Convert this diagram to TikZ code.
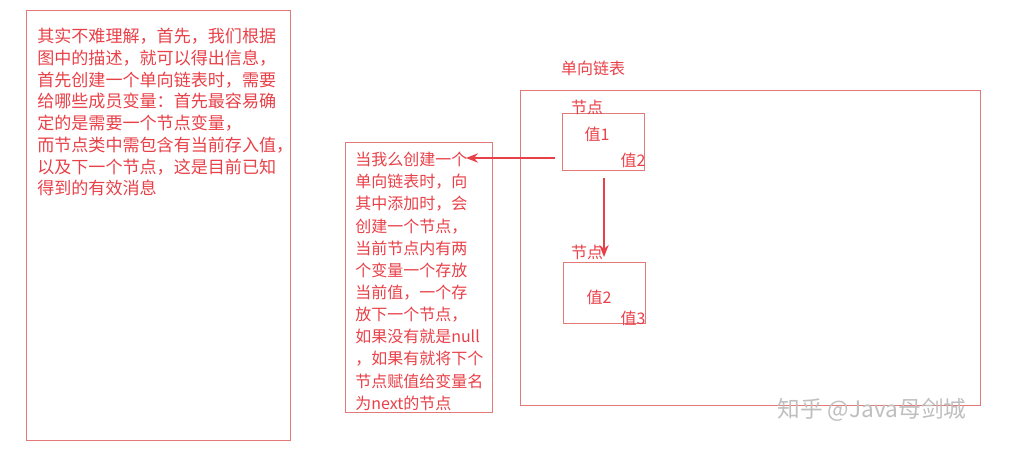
\documentclass[tikz,border=0pt]{standalone}
\usepackage{fontspec}
\setmainfont{Noto Sans CJK SC}
\usetikzlibrary{positioning, arrows.meta}
\definecolor{memo}{RGB}{232,64,72}
\definecolor{frame}{RGB}{226,120,120}
\tikzstyle{panel} = [rectangle, draw=frame, line width=0.6pt]
\tikzstyle{memotext} = [text=memo, anchor=north west, align=left, font=\fontsize{12.8}{16.3}\selectfont, inner sep=0pt]
\tikzstyle{tag} = [text=memo, font=\fontsize{12}{14}\selectfont]
\tikzstyle{link} = [draw=memo, line width=1.4pt, -{Stealth[length=9pt,width=7pt]}]

\begin{document}
\begin{tikzpicture}[x=0.75pt, y=-0.75pt]
        \useasboundingbox (0,0) rectangle (1026,456);

        \draw[panel] (26,10) rectangle (290,440);
        \node[memotext] (intro) at (37,28) {其实不难理解，首先，我们根据\\图中的描述，就可以得出信息，\\首先创建一个单向链表时，需要\\给哪些成员变量：首先最容易确\\定的是需要一个节点变量，\\而节点类中需包含有当前存入值，\\以及下一个节点，这是目前已知\\得到的有效消息};

        \draw[panel] (345,142) rectangle (492,412);
        \node[memotext, font=\fontsize{12}{16.6}\selectfont] (explain) at (355,152) {当我么创建一个\\单向链表时，向\\其中添加时，会\\创建一个节点，\\当前节点内有两\\个变量一个存放\\当前值，一个存\\放下一个节点，\\如果没有就是null\\，如果有就将下个\\节点赋值给变量名\\为next的节点};

        \node[tag] (title) at (593,68) {单向链表};
        \draw[panel] (520,90) rectangle (980,405);

        \node[panel, minimum width=62pt, minimum height=43pt] (first) at (603.5,142) {};
        \node[tag] (firstlbl) at (587,107) {节点};
        \node[tag] (firstval) at (597,134) {值1};
        \node[tag] (firstnext) at (633,160) {值2};

        \node[panel, minimum width=61pt, minimum height=46pt] (second) at (604.5,293) {};
        \node[tag] (secondlbl) at (587,252) {节点};
        \node[tag] (secondval) at (599,297) {值2};
        \node[tag] (secondnext) at (633,318) {值3};

        \coordinate (tail) at (555,158);
        \coordinate (head) at (466,158);
        \coordinate (down) at (604,178);
        \coordinate (downend) at (604,257);
        \draw[link] (tail) -- (head);
        \draw[link] (down) -- (downend);

        \node[text=black!25, font=\fontsize{17}{19}\selectfont] (mark) at (872,410) {知乎 @Java母剑城};
    \end{tikzpicture}
\end{document}
